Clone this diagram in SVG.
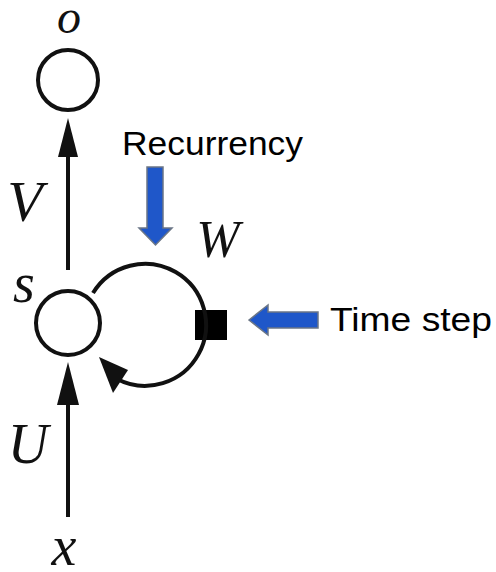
<svg xmlns="http://www.w3.org/2000/svg" width="496" height="572" viewBox="0 0 496 572">
<style>
.node{fill:none;stroke:#111;stroke-width:4}
.edge{fill:none;stroke:#111;stroke-width:4}
.head{fill:#111;stroke:none}
.math{font-family:"Liberation Serif","Times New Roman",serif;font-style:italic;fill:#111}
.lab{font-family:"Liberation Sans",Arial,sans-serif;fill:#000}
.blue{fill:#1f57c9;stroke:#6b7686;stroke-width:1.5}
</style>
<rect width="496" height="572" fill="#fff"/>
<g id="node-o">
<circle class="node" cx="68" cy="80" r="30"/>
<text class="math" x="69" y="33" font-size="48" text-anchor="middle">o</text>
</g>
<g id="node-s">
<circle class="node" cx="68" cy="323" r="32"/>
<text class="math" x="24" y="302" font-size="56" text-anchor="middle">s</text>
</g>
<g id="node-x">
<text class="math" x="64" y="565" font-size="56" text-anchor="middle">x</text>
</g>
<g id="node-delay">
<rect x="195" y="310" width="32" height="30" fill="#000"/>
</g>
<g id="connectors">
<line class="edge" x1="68" y1="270" x2="68" y2="150"/>
<polygon class="head" points="68,118 58,157 78,157"/>
<line class="edge" x1="68" y1="517" x2="68" y2="395"/>
<polygon class="head" points="68,362 57,405 79,405"/>
<path class="edge" d="M 93 293 A 61 61 0 1 1 117 379"/>
<polygon class="head" points="99,357 113,393 128,370"/>
<text class="math" x="25" y="221" font-size="58" text-anchor="middle">V</text>
<text class="math" x="28" y="463" font-size="56" text-anchor="middle">U</text>
<text class="math" x="218" y="257" font-size="52" text-anchor="middle">W</text>
</g>
<g id="annotation-recurrency">
<text class="lab" x="122" y="155" font-size="33" textLength="181" lengthAdjust="spacingAndGlyphs">Recurrency</text>
<polygon class="blue" points="147,167 163,167 163,228 172,228 155.5,245 139,228 147,228"/>
</g>
<g id="annotation-timestep">
<text class="lab" x="330" y="331" font-size="33" textLength="162" lengthAdjust="spacingAndGlyphs">Time step</text>
<polygon class="blue" points="249,320 268,305 268,312 318,312 318,328 268,328 268,335"/>
</g>
</svg>
